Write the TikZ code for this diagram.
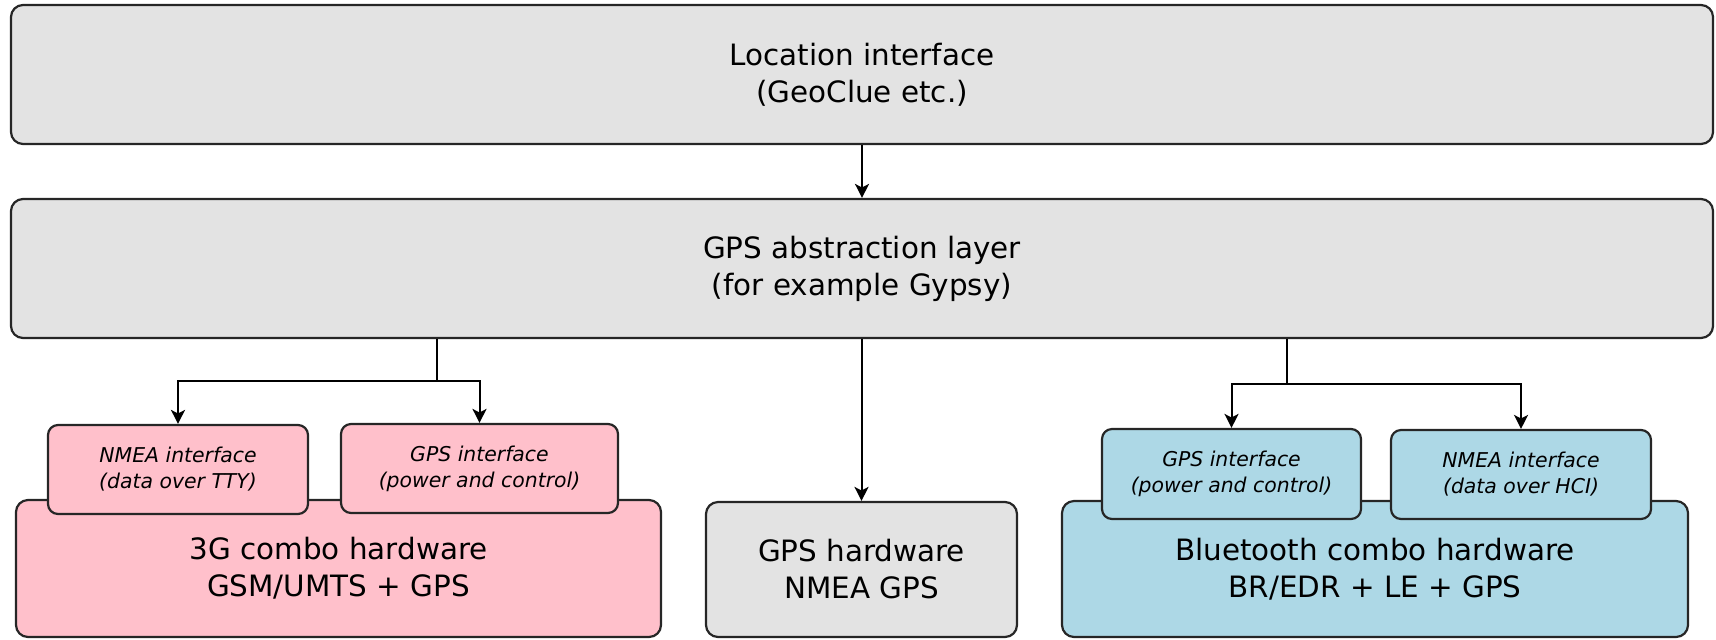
\documentclass[tikz,border=0pt]{standalone}
\usepackage{fontspec}
\setmainfont{DejaVu Sans}
\usetikzlibrary{arrows.meta}
\definecolor{boxgray}{HTML}{E3E3E3}
\definecolor{boxpink}{HTML}{FFC0CB}
\definecolor{boxblue}{HTML}{ADD8E6}
\tikzset{
  blk/.style={draw=black!85, line width=1.1pt, rounded corners=6pt, inner sep=0pt,
    align=center, font=\fontsize{14.7pt}{18.5pt}\selectfont},
  iface/.style={draw=black!85, line width=1.1pt, rounded corners=5pt, inner sep=0pt,
    align=center, font=\fontsize{10.2pt}{13pt}\selectfont\itshape},
  conn/.style={line width=1pt, black},
  arr/.style={conn, -{Stealth[length=7pt,width=7pt,inset=1.8pt]}},
}
\begin{document}
\begin{tikzpicture}[x=0.5pt,y=-0.5pt]
\useasboundingbox (0,0) rectangle (1716,639);
\node[blk, fill=boxgray, minimum width=851pt, minimum height=69.5pt] (top) at (862,74.5)
  {Location interface\\(GeoClue etc.)};
\node[blk, fill=boxgray, minimum width=851pt, minimum height=69.5pt] (abs) at (862,268.5)
  {GPS abstraction layer\\(for example Gypsy)};
\node[blk, fill=boxpink, minimum width=322.5pt, minimum height=68.5pt] (hw3g) at (338.5,568.5)
  {3G combo hardware\\GSM/UMTS + GPS};
\node[iface, fill=boxpink, minimum width=130pt, minimum height=44.5pt] (nmeaL) at (178,469.5)
  {NMEA interface\\(data over TTY)};
\node[iface, fill=boxpink, minimum width=138.5pt, minimum height=44.5pt] (gpsL) at (479.5,468.5)
  {GPS interface\\(power and control)};
\node[blk, fill=boxgray, minimum width=155.5pt, minimum height=67.5pt] (gpshw) at (861.5,569.5)
  {GPS hardware\\NMEA GPS};
\node[blk, fill=boxblue, minimum width=313pt, minimum height=68pt] (bt) at (1375,569)
  {Bluetooth combo hardware\\BR/EDR + LE + GPS};
\node[iface, fill=boxblue, minimum width=129.5pt, minimum height=45pt] (gpsR) at (1231.5,474)
  {GPS interface\\(power and control)};
\node[iface, fill=boxblue, minimum width=130pt, minimum height=44.5pt] (nmeaR) at (1521,474.5)
  {NMEA interface\\(data over HCI)};
\coordinate (lsplit) at (437,381);
\coordinate (rsplit) at (1287,384);
\draw[arr] (top) -- (abs);
\draw[conn] (abs.south -| lsplit) -- (lsplit);
\draw[arr] (lsplit) -| (nmeaL.north);
\draw[arr] (lsplit) -| (gpsL.north);
\draw[arr] (abs.south -| gpshw.north) -- (gpshw.north);
\draw[conn] (abs.south -| rsplit) -- (rsplit);
\draw[arr] (rsplit) -| (gpsR.north);
\draw[arr] (rsplit) -| (nmeaR.north);
\end{tikzpicture}
\end{document}
